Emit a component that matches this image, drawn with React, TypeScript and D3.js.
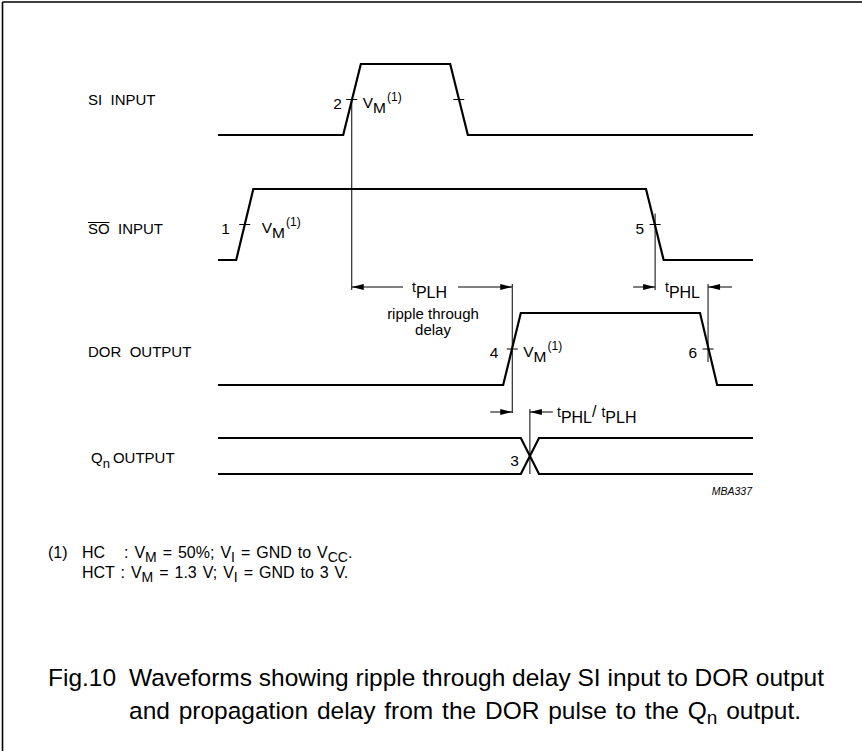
import * as d3 from "d3";
import React from "react";

// waveform samples: [time, logic level]
type Pt = [number, number];

const timeDomain: [number, number] = [0, 100];

const siInput: Pt[] = [[0, 0], [23.4, 0], [26.7, 1], [43.4, 1], [46.7, 0], [100, 0]];
const soInput: Pt[] = [[0, 0], [3.4, 0], [6.6, 1], [80, 1], [83.3, 0], [100, 0]];
const dorOutput: Pt[] = [[0, 0], [53.3, 0], [56.6, 1], [90.1, 1], [93.3, 0], [100, 0]];
const qnHigh: Pt[] = [[0, 1], [56.6, 1], [60, 0], [100, 0]];
const qnLow: Pt[] = [[0, 0], [56.6, 0], [60, 1], [100, 1]];

// V_M crossings (reference points) with their numbers
const refRows = ["SI", "SO", "DOR", "SI", "SO", "DOR"];
const refTimes = [25, 5, 55, 45, 81.7, 91.6];
const refNumbers = ["2", "1", "4", "", "5", "6"];
const refVm = [true, true, true, false, false, false];
const crossTime = 58.3;
const crossNumber = "3";

const signalNames = ["SI  INPUT", "SO  INPUT", "DOR  OUTPUT", "OUTPUT"];

const font = "'Liberation Sans', Arial, Helvetica, sans-serif";

export default function App() {
    const width = 862;
    const height = 751;

    // time axis
    const x = d3.scaleLinear().domain(timeDomain).range([218, 753]);

    // each row has its own level scale
    const rowMid: Record<string, number> = { SI: 99.5, SO: 224.5, DOR: 349, QN: 456 };
    const rowHalf: Record<string, number> = { SI: 35.5, SO: 35.5, DOR: 36, QN: 18 };
    const level = (row: string) =>
        d3.scaleLinear().domain([0, 1]).range([rowMid[row] + rowHalf[row], rowMid[row] - rowHalf[row]]);

    const wave = (row: string) => {
        const y = level(row);
        return d3
            .line<Pt>()
            .x(d => x(d[0]))
            .y(d => y(d[1]));
    };

    const thick = { fill: "none", stroke: "#000", strokeWidth: 2.2, strokeLinejoin: "miter" as const };
    const thin = { stroke: "#000", strokeWidth: 1 };

    const arrowHead = (tipX: number, y: number, dir: number) => {
        const len = 12;
        return `M${tipX},${y}L${tipX - dir * len},${y - 3}L${tipX - dir * len},${y + 3}Z`;
    };

    const labelX = 88;
    const arrowY1 = 287;
    const arrowY2 = 412;

    const xSiRise = x(refTimes[0]);
    const xSoFall = x(refTimes[4]);
    const xDorRise = x(refTimes[2]);
    const xDorFall = x(refTimes[5]);
    const xCross = x(crossTime);

    const vmDx: Record<string, number> = { SI: 11, SO: 17, DOR: 11 };
    const numDx: Record<string, number> = { SI: -10, SO: -15, DOR: -14 };

    return (
        <svg
            width={width}
            height={height}
            style={{ position: "absolute", left: 0, top: 0, background: "#fff" }}
            fontFamily={font}
        >
            {/* frame (top and left edges only visible) */}
            <line x1={2.5} y1={2} x2={width} y2={2} stroke="#000" strokeWidth={1.6} />
            <line x1={2.5} y1={2} x2={2.5} y2={height} stroke="#000" strokeWidth={1.6} />

            {/* signal names */}
            <text x={labelX} y={rowMid.SI + 5.5} fontSize={15} xmlSpace="preserve">{signalNames[0]}</text>
            <text x={labelX} y={rowMid.SO + 9.5} fontSize={15} xmlSpace="preserve">{signalNames[1]}</text>
            <line x1={labelX} y1={rowMid.SO - 2} x2={labelX + 21.5} y2={rowMid.SO - 2} {...thin} />
            <text x={labelX} y={rowMid.DOR + 8} fontSize={15} xmlSpace="preserve">{signalNames[2]}</text>
            <text x={labelX + 3} y={rowMid.QN + 7} fontSize={15}>
                Q<tspan dy={5} fontSize={13}>n</tspan>
                <tspan dy={-5} dx={3}>{signalNames[3]}</tspan>
            </text>

            {/* waveforms */}
            <path d={wave("SI")(siInput) || ""} {...thick} />
            <path d={wave("SO")(soInput) || ""} {...thick} />
            <path d={wave("DOR")(dorOutput) || ""} {...thick} />
            <path d={wave("QN")(qnHigh) || ""} {...thick} />
            <path d={wave("QN")(qnLow) || ""} {...thick} />

            {/* V_M ticks, numbers and labels */}
            {refTimes.map((t, i) => {
                const row = refRows[i];
                const cx = x(t);
                const cy = level(row)(0.5);
                return (
                    <g key={i}>
                        <line x1={cx - 5.5} x2={cx + 5.5} y1={cy} y2={cy} {...thin} />
                        {refNumbers[i] && (
                            <text
                                x={cx + (i < 3 ? numDx[row] : -11)}
                                y={cy + 9}
                                fontSize={15.5}
                                textAnchor="end"
                            >
                                {refNumbers[i]}
                            </text>
                        )}
                        {refVm[i] && (
                            <text x={cx + vmDx[row]} y={cy + 8} fontSize={15.5}>
                                V<tspan dy={5} fontSize={15.5}>M</tspan>
                                <tspan dy={-12} dx={1} fontSize={12}>(1)</tspan>
                            </text>
                        )}
                    </g>
                );
            })}

            {/* timing reference lines */}
            <line x1={xSiRise} x2={xSiRise} y1={level("SI")(0.5)} y2={arrowY1 + 3} {...thin} />
            <line x1={xSoFall} x2={xSoFall} y1={level("SO")(0.5) - 11} y2={arrowY1 + 3} {...thin} />
            <line x1={xDorRise} x2={xDorRise} y1={arrowY1 - 3} y2={arrowY2 + 1} {...thin} />
            <line x1={xDorFall} x2={xDorFall} y1={arrowY1 - 3} y2={level("DOR")(0.5) + 13} {...thin} />
            <line x1={xCross} x2={xCross} y1={arrowY2 - 3} y2={level("QN")(0)} {...thin} />

            {/* crossing number */}
            <text x={xCross - 11} y={rowMid.QN + 10} fontSize={15.5} textAnchor="end">{crossNumber}</text>

            {/* tPLH ripple through delay */}
            <line x1={xSiRise} x2={403} y1={arrowY1} y2={arrowY1} {...thin} />
            <line x1={458} x2={xDorRise} y1={arrowY1} y2={arrowY1} {...thin} />
            <path d={arrowHead(xSiRise, arrowY1, -1)} fill="#000" />
            <path d={arrowHead(xDorRise, arrowY1, 1)} fill="#000" />
            <text x={412} y={arrowY1 + 5} fontSize={14}>
                t<tspan dy={6} fontSize={16}>PLH</tspan>
            </text>
            <text x={433} y={319} fontSize={15} textAnchor="middle">ripple through</text>
            <text x={433} y={335} fontSize={15} textAnchor="middle">delay</text>

            {/* tPHL */}
            <line x1={xSoFall - 22} x2={xSoFall} y1={arrowY1} y2={arrowY1} {...thin} />
            <path d={arrowHead(xSoFall, arrowY1, 1)} fill="#000" />
            <line x1={xDorFall} x2={xDorFall + 24} y1={arrowY1} y2={arrowY1} {...thin} />
            <path d={arrowHead(xDorFall, arrowY1, -1)} fill="#000" />
            <text x={665} y={arrowY1 + 5} fontSize={14}>
                t<tspan dy={6} fontSize={16}>PHL</tspan>
            </text>

            {/* tPHL / tPLH */}
            <line x1={xDorRise - 22} x2={xDorRise} y1={arrowY2} y2={arrowY2} {...thin} />
            <path d={arrowHead(xDorRise, arrowY2, 1)} fill="#000" />
            <line x1={xCross} x2={xCross + 23} y1={arrowY2} y2={arrowY2} {...thin} />
            <path d={arrowHead(xCross, arrowY2, -1)} fill="#000" />
            <text x={557} y={arrowY2 + 5} fontSize={14}>
                t<tspan dy={6} fontSize={16}>PHL</tspan>
                <tspan dy={-6} fontSize={16}>/</tspan>
                <tspan dx={5} fontSize={14}>t</tspan>
                <tspan dy={6} fontSize={16}>PLH</tspan>
            </text>

            <text x={752} y={495} fontSize={10.5} fontStyle="italic" textAnchor="end">MBA337</text>

            {/* footnote */}
            <text x={48} y={558} fontSize={16}>(1)</text>
            <text x={82} y={558} fontSize={16}>HC</text>
            <text x={124} y={558} fontSize={16} wordSpacing={1.5}>
                : V<tspan dy={4} fontSize={14}>M</tspan>
                <tspan dy={-4}> = 50%; V</tspan>
                <tspan dy={4} fontSize={14}>I</tspan>
                <tspan dy={-4}> = GND to V</tspan>
                <tspan dy={4} fontSize={14}>CC</tspan>
                <tspan dy={-4}>.</tspan>
            </text>
            <text x={82} y={578} fontSize={16} wordSpacing={1.5}>
                HCT : V<tspan dy={4} fontSize={14}>M</tspan>
                <tspan dy={-4}> = 1.3 V; V</tspan>
                <tspan dy={4} fontSize={14}>I</tspan>
                <tspan dy={-4}> = GND to 3 V.</tspan>
            </text>

            {/* caption */}
            <text x={48} y={686} fontSize={24.5}>Fig.10</text>
            <text x={129} y={686} fontSize={24.5}>
                Waveforms showing ripple through delay SI input to DOR output
            </text>
            <text x={129} y={719} fontSize={24.5} wordSpacing={2}>
                and propagation delay from the DOR pulse to the Q<tspan dy={5} fontSize={19}>n</tspan>
                <tspan dy={-5}> output.</tspan>
            </text>
        </svg>
    );
}
